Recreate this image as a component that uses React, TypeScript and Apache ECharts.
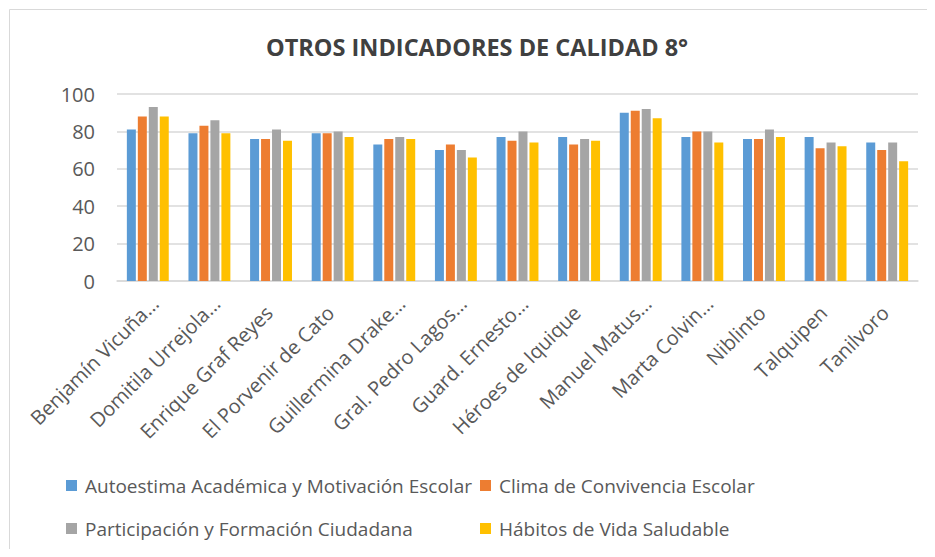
import React, { useEffect, useRef } from "react";
import * as echarts from "echarts";

const categories = [
  "Benjamín Vicuña…",
  "Domitila Urrejola…",
  "Enrique Graf Reyes",
  "El Porvenir de Cato",
  "Guillermina Drake…",
  "Gral. Pedro Lagos…",
  "Guard. Ernesto…",
  "Héroes de Iquique",
  "Manuel Matus…",
  "Marta Colvin…",
  "Niblinto",
  "Talquipen",
  "Tanilvoro",
];

const seriesNames = [
  "Autoestima Académica y Motivación Escolar",
  "Clima de Convivencia Escolar",
  "Participación y Formación Ciudadana",
  "Hábitos de Vida Saludable",
];

const autoestima = [81, 79, 76, 79, 73, 70, 77, 77, 90, 77, 76, 77, 74];
const clima = [88, 83, 76, 79, 76, 73, 75, 73, 91, 80, 76, 71, 70];
const participacion = [93, 86, 81, 80, 77, 70, 80, 76, 92, 80, 81, 74, 74];
const habitos = [88, 79, 75, 77, 76, 66, 74, 75, 87, 74, 77, 72, 64];

const seriesData = [autoestima, clima, participacion, habitos];
const colors = ["#5b9bd5", "#ed7d31", "#a5a5a5", "#ffc000"];

const yTicks = [0, 20, 40, 60, 80, 100];

const FONT = "'Open Sans', 'Noto Sans', sans-serif";

export default function App() {
  const ref = useRef<HTMLDivElement>(null);

  useEffect(() => {
    if (!ref.current) return;
    const chart = echarts.init(ref.current, undefined, { renderer: "svg" });
    const legendPos = [
      { left: 66, top: 476 },
      { left: 480, top: 476 },
      { left: 66, top: 519 },
      { left: 480, top: 519 },
    ];
    const labelBase = { fontFamily: FONT, fontSize: 20, color: "#595959" };
    chart.setOption({
      animation: false,
      backgroundColor: "#ffffff",
      title: {
        text: "OTROS INDICADORES DE CALIDAD 8°",
        left: 261,
        top: 30,
        textStyle: {
          fontFamily: FONT,
          fontWeight: "bold",
          fontSize: 23.5,
          color: "#404040",
        },
      },
      graphic: [
        {
          type: "rect",
          shape: { x: 9.5, y: 9.5, width: 1000, height: 1000 },
          style: { fill: "none", stroke: "#d9d9d9", lineWidth: 1 },
          silent: true,
          z: -1,
        },
      ],
      legend: seriesNames.map((n, i) => ({
        data: [n],
        left: legendPos[i].left,
        top: legendPos[i].top,
        itemWidth: 11,
        itemHeight: 11,
        icon: "rect",
        padding: 0,
        textStyle: {
          fontFamily: FONT,
          fontSize: 19,
          color: "#595959",
          padding: [0, 0, 0, 3],
        },
      })),
      grid: { left: 117, right: 17, top: 94, bottom: 276, containLabel: false },
      xAxis: {
        type: "category",
        data: categories,
        axisLine: { lineStyle: { color: "#d9d9d9", width: 1.5 } },
        axisTick: { show: false },
        axisLabel: {
          interval: 0,
          rotate: 45,
          ...labelBase,
          margin: 12,
          verticalAlign: "top",
          formatter: (v: string) => (v.endsWith("…") ? `{t|${v}}` : `{n|${v}}`),
          rich: {
            t: { ...labelBase, padding: [0, 0, 0, 0] },
            n: { ...labelBase, padding: [0, 13, 0, 0] },
          },
        },
      },
      yAxis: {
        type: "value",
        min: yTicks[0],
        max: yTicks[yTicks.length - 1],
        interval: 20,
        axisLine: { show: false },
        axisTick: { show: false },
        splitLine: { lineStyle: { color: "#d9d9d9", width: 1.5 } },
        axisLabel: {
          fontFamily: FONT,
          fontSize: 20,
          color: "#595959",
          margin: 22,
        },
      },
      series: seriesNames.map((n, i) => ({
        name: n,
        type: "bar",
        data: seriesData[i],
        barGap: "22%",
        barCategoryGap: "32%",
        itemStyle: { color: colors[i] },
      })),
    });
    return () => chart.dispose();
  }, []);

  return <div ref={ref} style={{ width: 935, height: 557, margin: -8 }} />;
}
